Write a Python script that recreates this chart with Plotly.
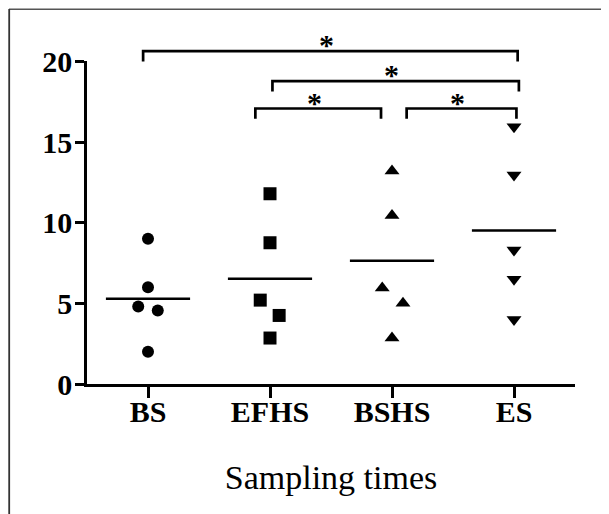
import plotly.graph_objects as go

# ---------------- data ----------------
categories = ["BS", "EFHS", "BSHS", "ES"]
bs_values = [9.0, 6.0, 4.8, 4.55, 2.0]
efhs_values = [11.8, 8.75, 5.2, 4.25, 2.85]
bshs_values = [13.2, 10.45, 5.95, 5.0, 2.85]
es_values = [15.95, 12.95, 8.3, 6.5, 4.0]
group_means = [5.28, 6.52, 7.64, 9.52]
y_tick_values = [0, 5, 10, 15, 20]
y_tick_labels = ["0", "5", "10", "15", "20"]
comparisons = [("BS", "ES"), ("EFHS", "ES"), ("EFHS", "BSHS"), ("BSHS", "ES")]
comparison_labels = ["*", "*", "*", "*"]
x_title = "Sampling times"

# ---------------- positions / styles ----------------
groups = [bs_values, efhs_values, bshs_values, es_values]
jitter = [
    [0, 0, -0.08, 0.08, 0],
    [0, 0, -0.08, 0.075, 0],
    [0, 0, -0.08, 0.09, 0],
    [0, 0, 0, 0, 0],
]
symbols = ["circle", "square", "triangle-up", "triangle-down"]
sizes = [12, 13, 13, 13]
mean_half_width = 0.345
bracket_levels = [20.64, 18.78, 17.08, 17.08]
bracket_nudges = [(-0.04, 0.03), (0.02, 0.04), (-0.12, -0.09), (0.12, 0.02)]
bracket_leg = 0.64

# page body has an 8px margin; figure sized to fit the window
W, H = 601, 506
ML, MR, MT, MB = 79, 34, 22, 130
plot_h = H - MT - MB
D = 322.6 / plot_h  # fraction of paper height used by main y-axis (0..20)

serif = "Liberation Serif"

fig = go.Figure()

for i, vals in enumerate(groups):
    fig.add_trace(go.Scatter(
        x=[i + j for j in jitter[i]], y=vals, mode="markers",
        marker=dict(symbol=symbols[i], size=sizes[i], color="black"),
        showlegend=False, hoverinfo="y",
    ))
    fig.add_trace(go.Scatter(
        x=[i - mean_half_width, i + mean_half_width],
        y=[group_means[i], group_means[i]], mode="lines",
        line=dict(color="black", width=2.5), showlegend=False, hoverinfo="skip",
    ))

for k, (a, b) in enumerate(comparisons):
    xa = categories.index(a) + bracket_nudges[k][0]
    xb = categories.index(b) + bracket_nudges[k][1]
    h = bracket_levels[k]
    fig.add_trace(go.Scatter(
        x=[xa, xa, xb, xb], y=[h - bracket_leg, h, h, h - bracket_leg],
        mode="lines", line=dict(color="black", width=2.7),
        yaxis="y2", showlegend=False, hoverinfo="skip",
    ))
    fig.add_annotation(
        x=(xa + xb) / 2, y=h, xref="x", yref="y2", text=comparison_labels[k],
        showarrow=False, yanchor="bottom", xshift=-4, yshift=-12,
        font=dict(family=serif, size=30, color="black", weight="bold"),
    )

# image frame (top and left edges)
def px_to_paper_x(px):
    return (px - ML) / (W - ML - MR)

def px_to_paper_y(py):
    return (H - MB - py) / plot_h

fig.add_shape(type="line", xref="paper", yref="paper",
              x0=px_to_paper_x(1), x1=px_to_paper_x(W + 5),
              y0=px_to_paper_y(1.2), y1=px_to_paper_y(1.2),
              line=dict(color="#555555", width=1.5))
fig.add_shape(type="line", xref="paper", yref="paper",
              x0=px_to_paper_x(1.2), x1=px_to_paper_x(1.2),
              y0=px_to_paper_y(1), y1=px_to_paper_y(H + 5),
              line=dict(color="#333333", width=1.8))

fig.update_layout(
    width=W, height=H,
    margin=dict(l=ML, r=MR, t=MT, b=MB, pad=0, autoexpand=False),
    paper_bgcolor="white", plot_bgcolor="rgba(0,0,0,0)",
    showlegend=False,
    xaxis=dict(
        range=[-0.5, 3.5], tickmode="array", tickvals=list(range(len(categories))),
        ticktext=categories, showline=True, linecolor="black", linewidth=2.5,
        ticks="outside", ticklen=11, tickwidth=2.5, tickcolor="black",
        ticklabelstandoff=-12, automargin=False,
        tickfont=dict(family=serif, size=30, color="black", weight="bold"),
        showgrid=False, zeroline=False, anchor="y",
        title=dict(text=x_title, font=dict(family=serif, size=34, color="black"),
                   standoff=39),
    ),
    yaxis=dict(
        range=[0, 20], domain=[0, D], tickmode="array", tickvals=y_tick_values,
        ticktext=y_tick_labels, showline=True, linecolor="black", linewidth=2.5,
        ticks="outside", ticklen=9, tickwidth=2.5, tickcolor="black",
        ticklabelstandoff=-3, automargin=False,
        tickfont=dict(family=serif, size=30, color="black", weight="bold"),
        showgrid=False, zeroline=False, anchor="x",
    ),
    yaxis2=dict(range=[0, 20 / D], domain=[0, 1], visible=False, anchor="x",
                showgrid=False, zeroline=False, automargin=False),
)

fig.write_html("out.html")
